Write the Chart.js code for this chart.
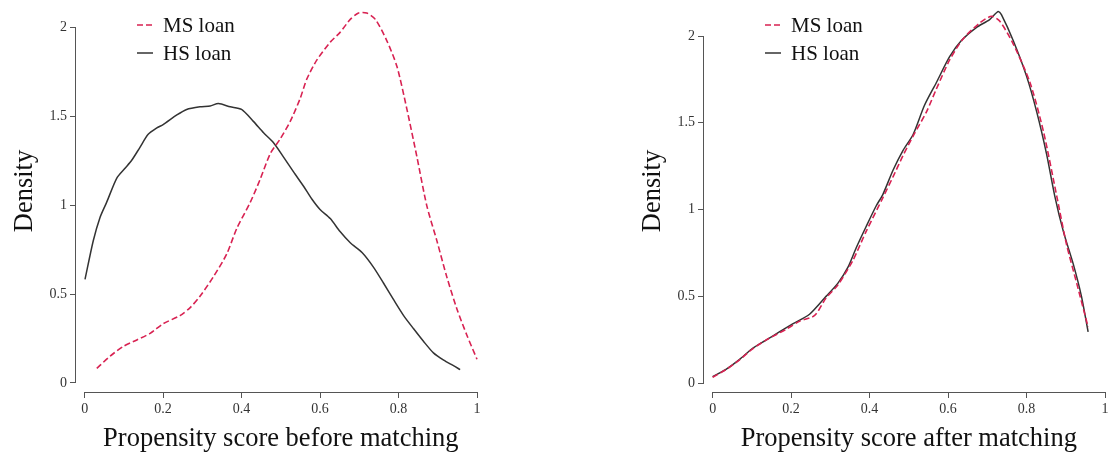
<!DOCTYPE html>
<html>
<head>
<meta charset="utf-8">
<script src="https://cdn.jsdelivr.net/npm/chart.js@4/dist/chart.umd.min.js"></script>
<style>
  body { margin: 0; background: #fff; }
  .wrap { position: relative; width: 1112px; height: 462px; overflow: hidden; }
  canvas { position: absolute; top: 0; }
  #before { left: 0; }
  #after { left: 628px; }
</style>
</head>
<body>
<div class="wrap">
  <canvas id="before" width="484" height="462"></canvas>
  <canvas id="after" width="484" height="462"></canvas>
</div>
<script>
// Series labels
const seriesNames = ["MS loan", "HS loan"];
const xTicks = [0, 0.2, 0.4, 0.6, 0.8, 1];
const yTicks = [0, 0.5, 1, 1.5, 2];

// Before matching - MS loan (red dashed)
const msBeforeX = [0.031, 0.065, 0.099, 0.133, 0.167, 0.2, 0.243, 0.269, 0.294, 0.328, 0.362, 0.388, 0.422, 0.447, 0.473, 0.498, 0.524, 0.549, 0.566, 0.592, 0.626, 0.651, 0.677, 0.698, 0.719, 0.741, 0.77, 0.796, 0.821, 0.847, 0.872, 0.898, 0.923, 0.949, 0.974, 1.0];
const msBeforeY = [0.082, 0.151, 0.206, 0.242, 0.279, 0.333, 0.379, 0.424, 0.488, 0.597, 0.725, 0.871, 1.016, 1.144, 1.29, 1.372, 1.472, 1.599, 1.709, 1.818, 1.918, 1.973, 2.046, 2.082, 2.082, 2.046, 1.927, 1.781, 1.544, 1.271, 0.998, 0.798, 0.597, 0.415, 0.27, 0.133];

// Before matching - HS loan (black)
const hsBeforeX = [0.001, 0.022, 0.039, 0.056, 0.082, 0.103, 0.12, 0.141, 0.162, 0.184, 0.2, 0.235, 0.26, 0.294, 0.32, 0.341, 0.371, 0.4, 0.43, 0.456, 0.481, 0.507, 0.532, 0.558, 0.579, 0.6, 0.626, 0.651, 0.677, 0.707, 0.736, 0.762, 0.787, 0.813, 0.838, 0.864, 0.889, 0.915, 0.94, 0.957];
const hsBeforeY = [0.583, 0.8, 0.93, 1.016, 1.153, 1.208, 1.253, 1.326, 1.399, 1.435, 1.454, 1.508, 1.539, 1.554, 1.559, 1.572, 1.554, 1.539, 1.472, 1.408, 1.353, 1.271, 1.189, 1.107, 1.035, 0.976, 0.925, 0.852, 0.789, 0.734, 0.652, 0.561, 0.47, 0.379, 0.306, 0.233, 0.169, 0.128, 0.097, 0.075];

// After matching - MS loan (red dashed)
const msAfterX = [0, 0.034, 0.068, 0.102, 0.136, 0.187, 0.221, 0.26, 0.289, 0.319, 0.357, 0.391, 0.434, 0.46, 0.485, 0.511, 0.545, 0.57, 0.604, 0.638, 0.681, 0.711, 0.732, 0.766, 0.809, 0.843, 0.877, 0.902, 0.928, 0.957];
const msAfterY = [0.034, 0.078, 0.133, 0.198, 0.248, 0.31, 0.356, 0.39, 0.49, 0.565, 0.705, 0.873, 1.069, 1.19, 1.31, 1.424, 1.563, 1.694, 1.862, 1.983, 2.076, 2.114, 2.085, 1.955, 1.731, 1.451, 1.078, 0.799, 0.575, 0.323];

// After matching - HS loan (black)
const hsAfterX = [0, 0.034, 0.068, 0.102, 0.136, 0.17, 0.204, 0.247, 0.289, 0.319, 0.345, 0.366, 0.391, 0.417, 0.434, 0.46, 0.485, 0.511, 0.54, 0.57, 0.604, 0.634, 0.672, 0.706, 0.728, 0.736, 0.766, 0.8, 0.826, 0.851, 0.872, 0.894, 0.919, 0.94, 0.957];
const hsAfterY = [0.037, 0.08, 0.136, 0.201, 0.248, 0.295, 0.341, 0.397, 0.5, 0.575, 0.668, 0.78, 0.901, 1.022, 1.088, 1.228, 1.34, 1.433, 1.601, 1.731, 1.881, 1.974, 2.049, 2.095, 2.142, 2.123, 1.974, 1.769, 1.563, 1.321, 1.078, 0.873, 0.687, 0.5, 0.295];

const RED = "#d82252";
const DARK = "#333333";
const AXIS = "#555555";
const SERIF = "'Liberation Serif', 'DejaVu Serif', serif";

const toPoints = (xs, ys) => xs.map((x, i) => ({ x, y: ys[i] }));

// R-like axis lines (only between first and last tick), axis titles and legend
const rStyle = {
  id: "rStyle",
  afterDraw(chart) {
    const { ctx, chartArea, scales } = chart;
    const x = scales.x, y = scales.y;
    const opts = chart.options.plugins.rStyle;
    ctx.save();
    ctx.strokeStyle = AXIS;
    ctx.lineWidth = 1;
    ctx.beginPath();
    const yb = Math.round(chartArea.bottom) + 0.5;
    ctx.moveTo(x.getPixelForValue(xTicks[0]), yb);
    ctx.lineTo(x.getPixelForValue(xTicks[xTicks.length - 1]), yb);
    const xl = Math.round(chartArea.left) - 0.5;
    ctx.moveTo(xl, y.getPixelForValue(yTicks[0]));
    ctx.lineTo(xl, y.getPixelForValue(yTicks[yTicks.length - 1]));
    ctx.stroke();

    // axis titles
    ctx.fillStyle = "#111";
    ctx.font = "26.5px " + SERIF;
    ctx.textAlign = "center";
    ctx.textBaseline = "alphabetic";
    const xc = (x.getPixelForValue(0) + x.getPixelForValue(1)) / 2;
    ctx.fillText(opts.xTitle, xc, 446);
    ctx.save();
    ctx.translate(32, 191);
    ctx.rotate(-Math.PI / 2);
    ctx.fillText("Density", 0, 0);
    ctx.restore();

    // legend
    const lx = chartArea.left + 61;
    const rows = [
      { name: seriesNames[0], color: RED, dash: [6, 3], cy: 25 },
      { name: seriesNames[1], color: DARK, dash: [], cy: 53 },
    ];
    ctx.font = "21px " + SERIF;
    ctx.textBaseline = "middle";
    ctx.textAlign = "left";
    rows.forEach((r) => {
      ctx.strokeStyle = r.color;
      ctx.lineWidth = 1.5;
      ctx.setLineDash(r.dash);
      ctx.beginPath();
      ctx.moveTo(lx, r.cy);
      ctx.lineTo(lx + 16, r.cy);
      ctx.stroke();
      ctx.setLineDash([]);
      ctx.fillStyle = "#111";
      ctx.fillText(r.name, lx + 26, r.cy + 1);
    });
    ctx.restore();
  },
};

function makeChart(id, title, ms, hs, yMax) {
  return new Chart(document.getElementById(id), {
    type: "scatter",
    data: {
      datasets: [
        {
          label: seriesNames[0],
          data: ms,
          showLine: true,
          borderColor: RED,
          borderWidth: 1.6,
          borderDash: [6, 3],
          pointRadius: 0,
          tension: 0.25,
          clip: false,
        },
        {
          label: seriesNames[1],
          data: hs,
          showLine: true,
          borderColor: DARK,
          borderWidth: 1.5,
          pointRadius: 0,
          tension: 0.25,
          clip: false,
        },
      ],
    },
    options: {
      responsive: false,
      animation: false,
      devicePixelRatio: 1,
      layout: { padding: { left: 0, right: 7, top: 0, bottom: 0 } },
      plugins: {
        legend: { display: false },
        tooltip: { enabled: false },
        rStyle: { xTitle: title },
      },
      scales: {
        x: {
          type: "linear",
          min: -0.022,
          max: 1,
          afterFit: (s) => { s.height = 70; },
          afterBuildTicks: (s) => { s.ticks = xTicks.map((v) => ({ value: v })); },
          ticks: {
            font: { family: SERIF, size: 14 },
            color: "#333",
            padding: 3,
            callback: (v) => String(v),
          },
          grid: { drawOnChartArea: false, drawTicks: true, tickLength: 6, color: AXIS },
          border: { display: false },
        },
        y: {
          type: "linear",
          min: -0.051,
          max: yMax,
          afterFit: (s) => { s.width = 76; },
          afterBuildTicks: (s) => { s.ticks = yTicks.map((v) => ({ value: v })); },
          ticks: {
            font: { family: SERIF, size: 14 },
            color: "#333",
            padding: 3,
            callback: (v) => String(v),
          },
          grid: { drawOnChartArea: false, drawTicks: true, tickLength: 6, color: AXIS },
          border: { display: false },
        },
      },
    },
    plugins: [rStyle],
  });
}

makeChart("before", "Propensity score before matching",
  toPoints(msBeforeX, msBeforeY), toPoints(hsBeforeX, hsBeforeY), 2.091);
makeChart("after", "Propensity score after matching",
  toPoints(msAfterX, msAfterY), toPoints(hsAfterX, hsAfterY), 2.142);
</script>
</body>
</html>
